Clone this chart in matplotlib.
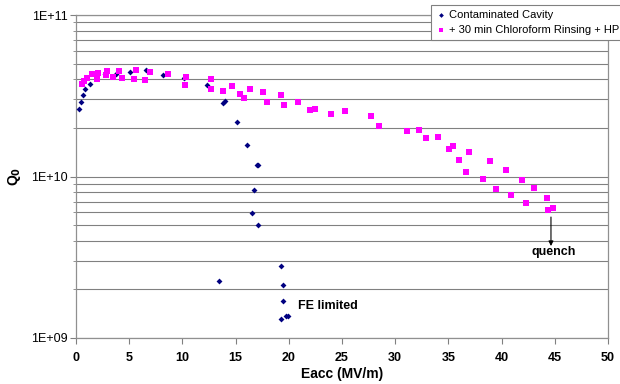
import matplotlib
matplotlib.use('Agg')
import matplotlib.pyplot as plt
from matplotlib.ticker import LogLocator, NullFormatter, FixedLocator

# Contaminated cavity (blue diamonds)
e_cont = [0.28, 0.50, 0.63, 0.89, 1.32, 2.68, 3.74, 5.08, 6.58, 8.20, 10.18, 12.34,
          13.79, 14.03, 15.16, 16.10, 17.01, 17.15, 16.76, 16.54, 17.13, 19.27,
          13.47, 19.49, 19.42, 19.74, 19.95, 19.27]
q_cont = [2.61e10, 2.90e10, 3.18e10, 3.47e10, 3.74e10, 4.32e10, 4.32e10, 4.46e10,
          4.56e10, 4.25e10, 4.09e10, 3.70e10, 2.84e10, 2.93e10, 2.18e10, 1.57e10,
          1.18e10, 1.18e10, 8.28e9, 5.92e9, 5.03e9, 2.79e9, 2.26e9, 2.14e9,
          1.69e9, 1.37e9, 1.37e9, 1.31e9]

# After 30 min chloroform rinsing + HPR (magenta squares)
e_rinse = [0.54, 0.75, 1.06, 1.46, 1.95, 2.10, 2.79, 2.94, 3.51, 4.07, 4.37, 5.45,
           5.64, 6.51, 6.95, 8.60, 10.36, 10.20, 12.66, 12.66, 13.86, 14.63, 15.37,
           15.82, 16.35, 17.56, 17.98, 19.25, 19.58, 20.89, 21.95, 22.46, 23.98,
           25.31, 27.73, 28.48, 31.08, 32.27, 32.91, 34.00, 35.01, 35.39, 36.01,
           36.94, 36.68, 38.21, 38.93, 40.39, 39.52, 41.95, 40.86, 43.07, 42.25,
           44.24, 44.33, 44.86]
q_rinse = [3.72e10, 3.88e10, 4.09e10, 4.31e10, 4.00e10, 4.36e10, 4.24e10, 4.48e10,
           4.13e10, 4.48e10, 4.06e10, 4.03e10, 4.55e10, 3.95e10, 4.42e10, 4.30e10,
           4.16e10, 3.66e10, 4.03e10, 3.46e10, 3.37e10, 3.63e10, 3.25e10, 3.08e10,
           3.50e10, 3.32e10, 2.90e10, 3.19e10, 2.77e10, 2.88e10, 2.57e10, 2.63e10,
           2.44e10, 2.56e10, 2.36e10, 2.05e10, 1.90e10, 1.95e10, 1.74e10, 1.76e10,
           1.47e10, 1.55e10, 1.27e10, 1.42e10, 1.07e10, 9.66e9, 1.24e10, 1.10e10,
           8.37e9, 9.51e9, 7.65e9, 8.43e9, 6.81e9, 7.33e9, 6.22e9, 6.34e9]

x_ticks = [0, 5, 10, 15, 20, 25, 30, 35, 40, 45, 50]
y_ticks = [1e9, 1e10, 1e11]
y_labels = ['1E+09', '1E+10', '1E+11']

plt.rcParams['font.family'] = ['Liberation Sans', 'DejaVu Sans']

fig = plt.figure(figsize=(6.2, 3.84), dpi=100)
ax = fig.add_axes([76/620, 1-338/384, 532/620, 323/384])

ax.set_yscale('log')
ax.set_xlim(0, 50)
ax.set_ylim(1e9, 1e11)

ax.yaxis.set_major_locator(FixedLocator(y_ticks))
ax.set_yticklabels(y_labels)
ax.yaxis.set_minor_locator(LogLocator(base=10, subs=range(2, 10)))
ax.yaxis.set_minor_formatter(NullFormatter())
ax.set_xticks(x_ticks)
ax.set_xticklabels([str(t) for t in x_ticks], fontweight='bold')

ax.grid(True, which='both', axis='y', color='#808080', lw=0.8)
ax.set_axisbelow(True)
for s in ax.spines.values():
    s.set_color('#909090')
    s.set_linewidth(0.9)

ax.tick_params(axis='both', which='major', direction='out', length=4, color='#808080',
               labelsize=9, pad=2)
ax.tick_params(axis='y', which='minor', direction='out', length=2, color='#808080')
ax.tick_params(axis='x', pad=6)

ax.scatter(e_cont, q_cont, marker='D', s=9, color='#000080', lw=0,
           label='Contaminated Cavity', zorder=3)
ax.scatter(e_rinse, q_rinse, marker='s', s=20, color='#FF00FF', lw=0,
           label='+ 30 min Chloroform Rinsing + HPR', zorder=3)

ax.set_xlabel('Eacc (MV/m)', fontsize=10, fontweight='bold', labelpad=2)
ax.set_ylabel(r'Q$_\mathbf{0}$', fontsize=10, fontweight='bold', labelpad=6)

ax.text(20.86, 1.58e9, 'FE limited', fontsize=9, fontweight='bold', va='center')
ax.annotate('', xy=(44.64, 3.71e9), xytext=(44.64, 5.61e9),
            arrowprops=dict(arrowstyle='-|>', color='black', lw=0.8,
                            mutation_scale=7, shrinkA=0, shrinkB=0))
ax.text(44.9, 3.41e9, 'quench', fontsize=9, fontweight='bold', ha='center', va='center')

leg = ax.legend(loc='upper left', bbox_to_anchor=(355/532, 1.03), fontsize=8,
                frameon=True, fancybox=False, edgecolor='#808080', framealpha=1,
                handletextpad=0.2, handlelength=1.0, borderpad=0.4,
                labelspacing=0.5, markerscale=0.8, borderaxespad=0)
leg.get_frame().set_linewidth(0.8)
leg.set_zorder(5)

fig.savefig('out.png', dpi=100)
